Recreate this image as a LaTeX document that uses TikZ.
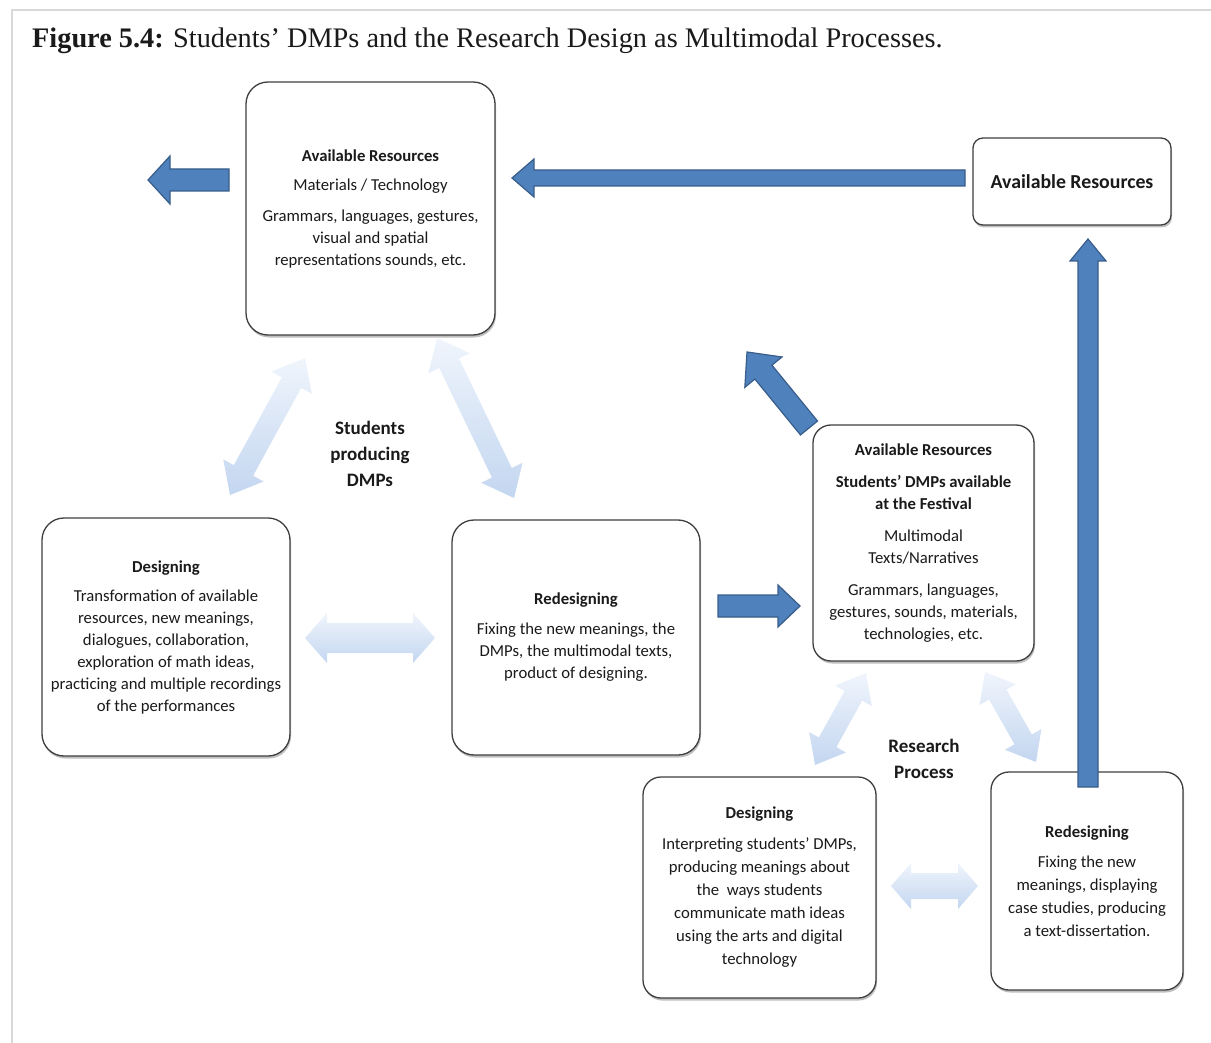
\documentclass[tikz,border=0pt]{standalone}
\usepackage{fontspec}
\setmainfont{Liberation Serif}
\newfontfamily\carlito{Carlito}
\usepackage{tikz}
\usetikzlibrary{calc, shadows}
\definecolor{ink}{HTML}{1A1A1A}
\definecolor{edge}{HTML}{3F3F3F}
\definecolor{frame}{HTML}{D9D9D9}
\definecolor{steel}{HTML}{4F81BD}
\definecolor{steelDark}{HTML}{385D8A}
\definecolor{mist}{HTML}{C3D6F0}
\definecolor{mistPale}{HTML}{F0F5FC}

% block arrow: [style]{from}{to}{half shaft}{half head}{head length}
\newcommand{\fatarrow}[6][]{%
  \coordinate (fa-n) at ($(#3)!#6!(#2)$);
  \path[#1] ($(#2)!#4!90:(#3)$) -- ($(fa-n)!#4!90:(#3)$) -- ($(fa-n)!#5!90:(#3)$)
    -- (#3) -- ($(fa-n)!#5!-90:(#3)$) -- ($(fa-n)!#4!-90:(#3)$)
    -- ($(#2)!#4!-90:(#3)$) -- cycle;
}
% same, with a head at both ends
\newcommand{\twinarrow}[6][]{%
  \coordinate (ta-n) at ($(#2)!#6!(#3)$);
  \coordinate (ta-m) at ($(#3)!#6!(#2)$);
  \path[#1] (#2) -- ($(ta-n)!#5!90:(#3)$) -- ($(ta-n)!#4!90:(#3)$)
    -- ($(ta-m)!#4!90:(#3)$) -- ($(ta-m)!#5!90:(#3)$) -- (#3)
    -- ($(ta-m)!#5!-90:(#3)$) -- ($(ta-m)!#4!-90:(#3)$)
    -- ($(ta-n)!#4!-90:(#3)$) -- ($(ta-n)!#5!-90:(#3)$) -- cycle;
}

\begin{document}
\begin{tikzpicture}[x=1pt, y=-1pt, font=\carlito\fontsize{16.7pt}{22pt}\selectfont, text=ink]
    \tikzset{
      box/.style={rectangle, draw=edge, line width=1.3pt, fill=white,
                  rounded corners=22pt, align=center, inner sep=3pt,
                  drop shadow={shadow xshift=1pt, shadow yshift=-2.5pt,
                               opacity=0.25, fill=black}},
      tag/.style={align=center, font=\carlito\bfseries\fontsize{19pt}{26pt}\selectfont},
      solid/.style={fill=steel, draw=steelDark, line width=1.2pt, line join=miter},
      pale/.style={top color=mistPale, bottom color=mist, draw=none}
    }
    \useasboundingbox (0,0) rectangle (1211,1043);
    \draw[frame, line width=2pt] (12,1043) -- (12,10) -- (1211,10);
    \node[anchor=base west, inner sep=0pt, font=\fontsize{28.3pt}{30pt}\selectfont] (cap) at (32,48)
      {\textbf{Figure 5.4:} Students’ DMPs and the Research Design as Multimodal Processes.};

    \node[box, minimum width=249pt, minimum height=253pt] (res) at (370.5,208.5)
      {\textbf{Available Resources}\\[7pt]
       Materials / Technology\\[9pt]
       Grammars, languages, gestures,\\ visual and spatial\\ representations sounds, etc.};
    \node[box, rounded corners=10pt, minimum width=198pt, minimum height=87pt,
          font=\carlito\bfseries\fontsize{19.8pt}{22pt}\selectfont] (resR) at (1072,181.5)
      {Available Resources};
    \node[box, minimum width=248pt, minimum height=238pt] (des) at (166,637)
      {\textbf{Designing}\\[7pt]
       Transformation of available\\ resources, new meanings,\\ dialogues, collaboration,\\
       exploration of math ideas,\\ practicing and multiple recordings\\ of the performances};
    \node[box, minimum width=248pt, minimum height=235pt] (red) at (576,637.5)
      {\textbf{Redesigning}\\[8pt]
       Fixing the new meanings, the\\ DMPs, the multimodal texts,\\ product of designing.};
    \node[box, rounded corners=18pt, minimum width=221pt, minimum height=236pt] (fest) at (923.5,543)
      {\textbf{Available Resources}\\[10pt]
       \textbf{Students’ DMPs available}\\ \textbf{at the Festival}\\[10pt]
       Multimodal\\ Texts/Narratives\\[10pt]
       Grammars, languages,\\ gestures, sounds, materials,\\ technologies, etc.};
    \node[box, rounded corners=18pt, minimum width=233pt, minimum height=221pt] (desR) at (759.5,887.5)
      {\textbf{Designing}\\[9pt]
       Interpreting students’ DMPs,\\[1pt] producing meanings about\\[1pt] the\ \ ways students\\[1pt]
       communicate math ideas\\[1pt] using the arts and digital\\[1pt] technology};
    \node[box, rounded corners=18pt, minimum width=192pt, minimum height=218pt] (redR) at (1087,881)
      {\textbf{Redesigning}\\[8pt]
       Fixing the new\\[1pt] meanings, displaying\\[1pt] case studies, producing\\[1pt] a text-dissertation.};

    \node[tag] (stud) at (370,454) {Students\\ producing\\ DMPs};
    \node[tag] (proc) at (924,759) {Research\\ Process};

    \coordinate (outL) at (148,180);
    \coordinate (outT) at (229,180);
    \coordinate (backT) at (965,178);
    \coordinate (backH) at (512,178);
    \coordinate (upT) at (809,428);
    \coordinate (upH) at (747,352);
    \coordinate (fwdT) at (718,606);
    \coordinate (fwdH) at (800,606);
    \coordinate (riseT) at (1088,787);
    \coordinate (riseH) at (1088,239);
    \fatarrow[solid]{outT}{outL}{11pt}{24pt}{22pt}
    \fatarrow[solid]{backT}{backH}{8pt}{19pt}{22pt}
    \fatarrow[solid]{upT}{upH}{11pt}{24pt}{26pt}
    \fatarrow[solid]{fwdT}{fwdH}{11pt}{21pt}{22pt}
    \fatarrow[solid]{riseT}{riseH}{10pt}{18pt}{22pt}

    \coordinate (l1) at (305,358);
    \coordinate (l2) at (230,495);
    \coordinate (r1) at (437,338);
    \coordinate (r2) at (514,498);
    \coordinate (h1) at (305,638);
    \coordinate (h2) at (435,638);
    \coordinate (bl1) at (866,673);
    \coordinate (bl2) at (815,765);
    \coordinate (br1) at (985,672);
    \coordinate (br2) at (1036,762);
    \coordinate (bh1) at (891,886);
    \coordinate (bh2) at (978,886);
    \twinarrow[pale]{l1}{l2}{11pt}{23pt}{28pt}
    \twinarrow[pale]{r1}{r2}{11pt}{23pt}{28pt}
    \twinarrow[pale]{h1}{h2}{15pt}{25pt}{22pt}
    \twinarrow[pale]{bl1}{bl2}{10pt}{21pt}{26pt}
    \twinarrow[pale]{br1}{br2}{10pt}{21pt}{26pt}
    \twinarrow[pale]{bh1}{bh2}{13pt}{23pt}{20pt}
  \end{tikzpicture}
\end{document}
